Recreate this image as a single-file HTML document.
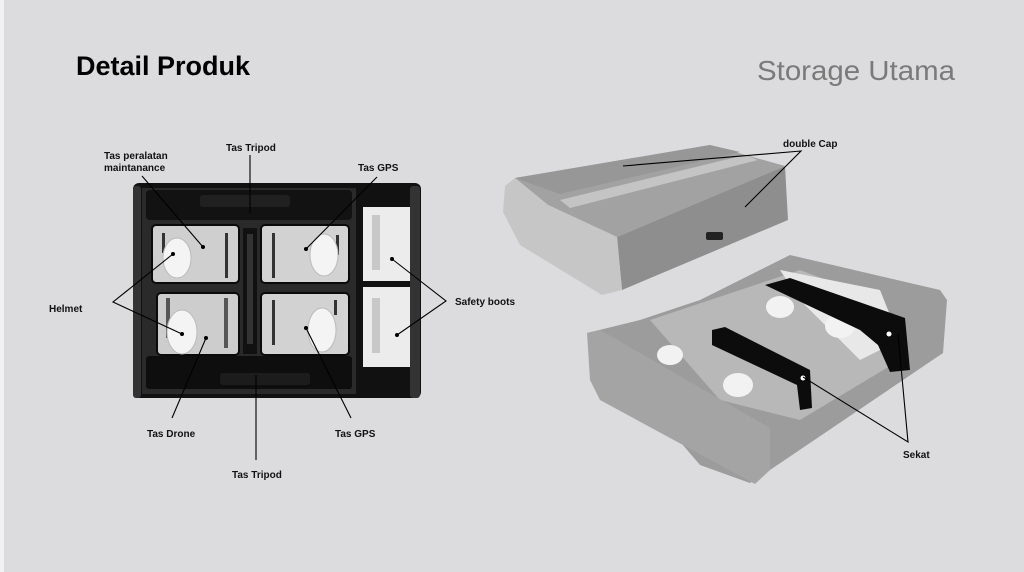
<!DOCTYPE html>
<html><head><style>
html,body{margin:0;padding:0;}
body{width:1024px;height:572px;background:#dcdcde;overflow:hidden;font-family:"Liberation Sans",sans-serif;}
svg{display:block}
</style></head><body>
<svg width="1024" height="572" viewBox="0 0 1024 572" xmlns="http://www.w3.org/2000/svg" font-family="Liberation Sans, sans-serif">
<rect x="0" y="0" width="1024" height="572" fill="#dcdcde"/>
<rect x="0" y="0" width="4" height="572" fill="#f2f2f2"/>
<text x="76" y="75" font-size="27" font-weight="bold" fill="#000">Detail Produk</text>
<text x="757" y="80" font-size="28" fill="#7a7a7a" textLength="198" lengthAdjust="spacingAndGlyphs">Storage Utama</text>

<!-- left box -->
<rect x="133" y="183" width="288" height="215" rx="6" fill="#111"/>
<rect x="142" y="188" width="214" height="206" fill="#2a2a2a"/>
<rect x="146" y="190" width="206" height="30" rx="4" fill="#121212"/>
<rect x="200" y="195" width="90" height="12" rx="3" fill="#202020"/>
<rect x="146" y="356" width="206" height="33" rx="3" fill="#0e0e0e"/>
<rect x="220" y="373" width="90" height="12" rx="3" fill="#1c1c1c"/>
<rect x="243" y="228" width="14" height="126" fill="#111"/>
<rect x="247" y="234" width="6" height="110" fill="#333"/>
<rect x="152" y="225" width="87" height="58" rx="4" fill="#cfcfcf" stroke="#0a0a0a" stroke-width="2"/>
<rect x="261" y="225" width="88" height="58" rx="4" fill="#d2d2d2" stroke="#0a0a0a" stroke-width="2"/>
<rect x="157" y="293" width="82" height="62" rx="4" fill="#cdcdcd" stroke="#0a0a0a" stroke-width="2"/>
<rect x="261" y="293" width="88" height="62" rx="4" fill="#d2d2d2" stroke="#0a0a0a" stroke-width="2"/>
<rect x="162" y="233" width="3" height="20" fill="#333"/><rect x="225" y="233" width="3" height="45" fill="#333"/>
<rect x="272" y="233" width="3" height="45" fill="#333"/><rect x="336" y="235" width="3" height="20" fill="#333"/>
<rect x="166" y="298" width="4" height="40" fill="#555"/><rect x="224" y="298" width="4" height="50" fill="#555"/>
<rect x="272" y="300" width="3" height="45" fill="#333"/><rect x="334" y="300" width="3" height="15" fill="#333"/>
<ellipse cx="177" cy="258" rx="14" ry="20" fill="#f4f4f4" stroke="#bbb"/>
<ellipse cx="324" cy="255" rx="14" ry="21" fill="#f4f4f4" stroke="#bbb"/>
<ellipse cx="182" cy="332" rx="15" ry="22" fill="#f4f4f4" stroke="#bbb"/>
<ellipse cx="322" cy="330" rx="14" ry="22" fill="#f4f4f4" stroke="#bbb"/>
<rect x="358" y="186" width="56" height="210" fill="#111"/>
<rect x="363" y="207" width="48" height="74" fill="#ececec"/>
<rect x="363" y="287" width="48" height="80" fill="#ececec"/>
<rect x="372" y="215" width="8" height="55" fill="#c8c8c8"/>
<rect x="372" y="298" width="8" height="55" fill="#c8c8c8"/>
<rect x="410" y="186" width="10" height="212" rx="3" fill="#333"/>
<rect x="133" y="186" width="8" height="212" rx="3" fill="#333"/>

<!-- lid -->
<polygon points="515,178 710,145 785,166 617,237 548,205" fill="#a2a2a2"/>
<polygon points="515,178 710,145 740,152 560,194" fill="#979797"/>
<polygon points="560,200 745,155 758,160 570,208" fill="#c4c4c4"/>
<polygon points="617,237 785,166 788,220 622,290" fill="#8e8e8e"/>
<polygon points="505,186 515,178 548,205 617,237 622,290 602,295 520,245 503,212" fill="#c6c6c6"/>
<rect x="706" y="232" width="17" height="8" rx="2" fill="#222"/>

<!-- tray -->
<polygon points="790,255 940,290 947,300 943,353 770,470 750,483 700,465 587,333 640,320 700,300" fill="#9c9c9c"/>
<polygon points="650,320 800,270 880,300 900,360 800,420 720,400" fill="#b8b8b8"/>
<polygon points="780,270 880,290 900,340 860,360 800,300" fill="#e8e8e8"/>
<ellipse cx="780" cy="307" rx="14" ry="11" fill="#f2f2f2"/>
<ellipse cx="840" cy="326" rx="15" ry="12" fill="#f2f2f2"/>
<ellipse cx="670" cy="355" rx="13" ry="10" fill="#f2f2f2"/>
<ellipse cx="738" cy="385" rx="15" ry="12" fill="#f2f2f2"/>
<polygon points="765,285 790,278 905,318 910,370 890,372 878,345 860,330" fill="#0c0c0c"/>
<polygon points="712,330 725,327 810,370 812,408 800,410 797,385 712,345" fill="#0c0c0c"/>
<circle cx="803" cy="378" r="2.5" fill="#fff"/><circle cx="889" cy="334" r="2.5" fill="#fff"/>
<polygon points="587,333 600,330 770,428 770,470 755,484 600,400 590,380" fill="#a4a4a4"/>

<g stroke="#000" stroke-width="1.1" fill="none">
<line x1="142" y1="176" x2="203" y2="247"/>
<line x1="250" y1="155" x2="250" y2="213"/>
<line x1="377" y1="177" x2="306" y2="249"/>
<polyline points="173,254 113,302 182,334"/>
<polyline points="392,259 446,301 397,335"/>
<line x1="172" y1="418" x2="206" y2="338"/>
<line x1="351" y1="418" x2="306" y2="328"/>
<line x1="256" y1="375" x2="256" y2="460"/>
<polyline points="623,166 801,151 745,207"/>
<polyline points="803,377 908,442 898,334"/>
</g>
<g fill="#000"><circle cx="203" cy="247" r="2"/><circle cx="306" cy="249" r="2"/><circle cx="173" cy="254" r="2"/><circle cx="182" cy="334" r="2"/><circle cx="392" cy="259" r="2"/><circle cx="397" cy="335" r="2"/><circle cx="206" cy="338" r="2"/><circle cx="306" cy="328" r="2"/></g>
<g font-size="10" font-weight="bold" fill="#111">
<text x="104" y="159">Tas peralatan</text>
<text x="104" y="171">maintanance</text>
<text x="226" y="151">Tas Tripod</text>
<text x="358" y="171">Tas GPS</text>
<text x="49" y="312">Helmet</text>
<text x="455" y="305">Safety boots</text>
<text x="147" y="437">Tas Drone</text>
<text x="335" y="437">Tas GPS</text>
<text x="232" y="478">Tas Tripod</text>
<text x="783" y="147">double Cap</text>
<text x="903" y="458">Sekat</text>
</g>
</svg>
</body></html>
